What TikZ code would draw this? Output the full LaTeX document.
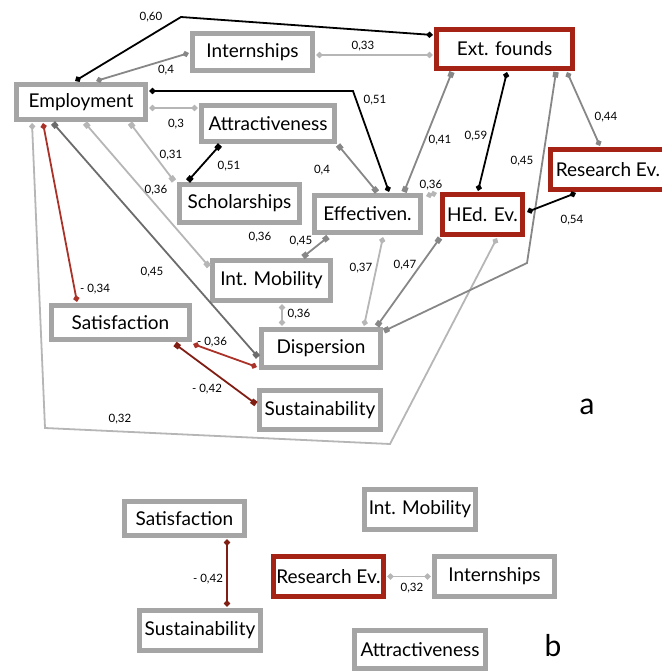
\documentclass[tikz,border=0pt]{standalone}
\usepackage{fontspec}
\setmainfont{Lato}
\usetikzlibrary{arrows.meta,calc}

\definecolor{boxgray}{RGB}{165,165,165}
\definecolor{boxred}{RGB}{165,35,20}
\definecolor{linelight}{RGB}{182,182,182}
\definecolor{linemid}{RGB}{135,135,135}
\definecolor{linedark}{RGB}{108,108,108}
\definecolor{linered}{RGB}{170,50,40}
\definecolor{linedred}{RGB}{128,30,20}

\tikzset{
  dmd/.tip={Diamond[length=7pt,width=6.5pt]},
  sqr/.tip={Square[length=5.5pt,width=5.5pt]},
}

\begin{document}
\begin{tikzpicture}
  [
  x=1pt, y=-1pt, line width=1.8pt,
  font=\fontsize{19}{21}\selectfont,
  varnode/.style={rectangle, inner sep=0pt, draw=boxgray, line width=5pt, fill=white},
  evalnode/.style={varnode, draw=boxred},
  sz/.style 2 args={minimum width=#1pt, minimum height=#2pt},
  wlabel/.style={font=\fontsize{11.5}{12}\selectfont, inner sep=0pt},
  dlink/.style={dmd-dmd},
  slink/.style={sqr-sqr},
  ]
  \useasboundingbox (0,0) rectangle (661,671);

  % panel a
  \node[varnode, sz={129}{35}] (emp) at (81,102) {Employment};
  \node[varnode, sz={120}{37}] (intern) at (252.5,52) {Internships};
  \node[evalnode, sz={136}{39}] (ext) at (504.5,49) {Ext. founds};
  \node[varnode, sz={133}{36}] (attr) at (268,123.5) {Attractiveness};
  \node[varnode, sz={120}{38}] (schol) at (239.5,203.5) {Scholarships};
  \node[varnode, sz={106}{37}] (eff) at (367.5,214) {Effectiven.};
  \node[evalnode, sz={80}{40}] (hed) at (482.5,214.5) {HEd. Ev.};
  \node[evalnode, sz={115}{40}] (res) at (608,169.5) {Research Ev.};
  \node[varnode, sz={118}{40}] (mob) at (271.5,280.5) {Int. Mobility};
  \node[varnode, sz={138}{34}] (sat) at (120.5,322.5) {Satisfaction};
  \node[varnode, sz={119}{38}] (disp) at (321,348.5) {Dispersion};
  \node[varnode, sz={121}{39}] (sust) at (320,410) {Sustainability};

  \draw[black, dlink] ($(emp)+(-6,-21)$) -- (181,17) -- ($(ext)+(-71.5,-14)$);
  \draw[linemid, dlink] ($(emp)+(15,-21)$) -- ($(intern)+(-63.5,1)$);
  \draw[linelight, dlink] ($(intern)+(63.5,3)$) -- ($(ext)+(-71.5,6)$);
  \draw[black, dlink] ($(emp)+(68,-11)$) -- (353,91) -- ($(eff)+(21.5,-22)$);
  \draw[linelight, dlink] ($(emp)+(68,6)$) -- ($(attr)+(-70,-15.5)$);
  \draw[linelight, slink] ($(emp)+(49,21)$) -- ($(schol)+(-65.5,-22.5)$);
  \draw[black, slink] ($(attr)+(-48,21.5)$) -- ($(schol)+(-51.5,-22.5)$);
  \draw[linelight, slink] ($(emp)+(4,21)$) -- ($(mob)+(-62.5,-14)$);
  \draw[linered, dlink] ($(emp)+(-38,21)$) -- ($(sat)+(-43.5,-20.5)$);
  \draw[linedark, slink] ($(emp)+(-28,21)$) -- ($(disp)+(-63,8.5)$);
  \draw[linelight, dlink] ($(emp)+(-49,21)$) -- (45,428) -- (390,444) -- ($(hed)+(14.5,23.5)$);
  \draw[linemid, slink] ($(attr)+(70,21.5)$) -- ($(eff)+(9.5,-22)$);
  \draw[linemid, slink] ($(eff)+(36.5,-22)$) -- ($(ext)+(-52.5,23)$);
  \draw[linelight, dlink] ($(eff)+(58.5,-18)$) -- ($(hed)+(-45.5,-21.5)$);
  \draw[black, dlink] ($(hed)+(-4.5,-23.5)$) -- ($(ext)+(2.5,23)$);
  \draw[linemid, slink] ($(ext)+(51.5,23)$) -- (527,263) -- ($(disp)+(63,-17.5)$);
  \draw[linemid, dlink] ($(ext)+(62.5,23)$) -- ($(res)+(-8,-23.5)$);
  \draw[black, dlink] ($(hed)+(44.5,-2.5)$) -- ($(res)+(-32,23.5)$);
  \draw[linemid, slink] ($(eff)+(-39.5,23)$) -- ($(mob)+(31.5,-23.5)$);
  \draw[linelight, dlink] ($(eff)+(15.5,23)$) -- ($(disp)+(43,-22.5)$);
  \draw[linemid, slink] ($(hed)+(-42.5,23.5)$) -- ($(disp)+(56,-22.5)$);
  \draw[linelight, dlink] ($(mob)+(10.5,23.5)$) -- ($(disp)+(-39,-22.5)$);
  \draw[linered, dlink] ($(sat)+(72.5,21.5)$) -- ($(disp)+(-64,18.5)$);
  \draw[linedred, slink] ($(sat)+(54.5,21.5)$) -- ($(sust)+(-64,-6)$);

  \node[wlabel] (w1) at (151,17) {0,60};
  \node[wlabel] (w2) at (166,70) {0,4};
  \node[wlabel] (w3) at (363,46) {0,33};
  \node[wlabel] (w4) at (375,100) {0,51};
  \node[wlabel] (w5) at (176,124) {0,3};
  \node[wlabel] (w6) at (171,155) {0,31};
  \node[wlabel] (w7) at (229,166) {0,51};
  \node[wlabel] (w8) at (156,190) {0,36};
  \node[wlabel] (w9) at (322,170) {0,4};
  \node[wlabel] (w10) at (440,140) {0,41};
  \node[wlabel] (w11) at (476,136) {0,59};
  \node[wlabel] (w12) at (522,161) {0,45};
  \node[wlabel] (w13) at (606,117) {0,44};
  \node[wlabel] (w14) at (431,185) {0,36};
  \node[wlabel] (w15) at (572,220) {0,54};
  \node[wlabel] (w16) at (260,237) {0,36};
  \node[wlabel] (w17) at (301,241) {0,45};
  \node[wlabel] (w18) at (152,272) {0,45};
  \node[wlabel] (w19) at (361,268) {0,37};
  \node[wlabel] (w20) at (405,265) {0,47};
  \node[wlabel] (w21) at (95,289) {- 0,34};
  \node[wlabel] (w22) at (299,314) {0,36};
  \node[wlabel] (w23) at (212,342) {- 0,36};
  \node[wlabel] (w24) at (207,389) {- 0,42};
  \node[wlabel] (w25) at (120,419) {0,32};
  \node[font=\fontsize{30}{32}\selectfont] (tag1) at (587,407) {a};

  % panel b
  \node[varnode, sz={120}{34}] (sat2) at (184.5,518.5) {Satisfaction};
  \node[varnode, sz={121}{40}] (sust2) at (200,630.5) {Sustainability};
  \node[varnode, sz={111}{40}] (mob2) at (420,509.5) {Int. Mobility};
  \node[evalnode, sz={110}{40}] (res2) at (328.5,576.5) {Research Ev.};
  \node[varnode, sz={120}{40}] (intern2) at (494.5,576.5) {Internships};
  \node[varnode, sz={131}{38}] (attr2) at (420,649.5) {Attractiveness};

  \draw[linedred, dlink] ($(sat2)+(42.5,20.5)$) -- ($(sust2)+(27,-23.5)$);
  \draw[linelight, dlink] ($(res2)+(58.5,0)$) -- ($(intern2)+(-63.5,0)$);

  \node[wlabel] (w26) at (208,579) {- 0,42};
  \node[wlabel] (w27) at (412,588) {0,32};
  \node[font=\fontsize{30}{32}\selectfont] (tag2) at (553,646) {b};
\end{tikzpicture}
\end{document}
